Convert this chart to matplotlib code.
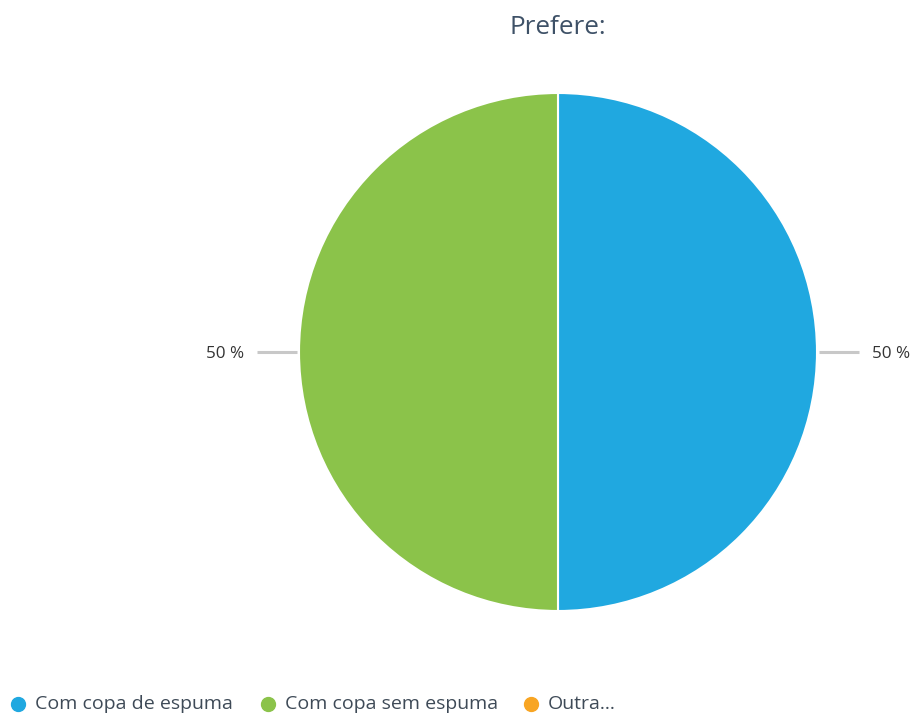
import numpy as np
import matplotlib
matplotlib.use("Agg")
import matplotlib.pyplot as plt

plt.rcParams['font.family'] = ['Open Sans', 'DejaVu Sans']

title = "Prefere:"
categories = ["Com copa de espuma", "Com copa sem espuma", "Outra..."]
values = [50, 50, 0]
colors = ["#20a8e0", "#8bc34a", "#f8a523"]

fig = plt.figure(figsize=(9.18, 7.16), dpi=100)
ax = fig.add_axes([0, 0, 1, 1])
ax.axis("off")

cx, cy, r = 558, 716 - 352, 259
shown = [(v, c) for v, c in zip(values, colors) if v > 0]
wedges, _ = ax.pie([v for v, c in shown], colors=[c for v, c in shown],
                   center=(cx, cy), radius=r, startangle=90, counterclock=False,
                   wedgeprops=dict(edgecolor="white", linewidth=1.5))
ax.set_xlim(0, 918)
ax.set_ylim(0, 716)
ax.set_aspect("equal")

# etiquetas com linhas guia
total = sum(values)
for w, (v, c) in zip(wedges, shown):
    ang = np.deg2rad((w.theta1 + w.theta2) / 2)
    dx, dy = np.cos(ang), np.sin(ang)
    x0, y0 = cx + (r + 2) * dx, cy + (r + 2) * dy
    x1, y1 = cx + (r + 42) * dx, cy + (r + 42) * dy
    ax.plot([x0, x1], [y0, y1], color="#c8c8c8", lw=2.2, solid_capstyle="butt")
    ha = "left" if dx > 0 else "right"
    ax.text(x1 + 13 * np.sign(dx), y1 - 2, f"{v / total * 100:.0f} %", ha=ha, va="center",
            fontsize=12.3, color="#333333")

fig.text(558 / 918, 1 - 27 / 716, title, ha="center", va="center", fontsize=18.8, color="#3e5167")

# legenda
leg_x = [18, 268, 531]
leg_y = 716 - 704
for x, lab, c in zip(leg_x, categories, colors):
    ax.plot(x, leg_y, marker="o", markersize=10, color=c, clip_on=False)
    ax.text(x + 17, leg_y, lab, ha="left", va="center", fontsize=14, color="#3e4a57")

fig.savefig("out.png", dpi=100)
